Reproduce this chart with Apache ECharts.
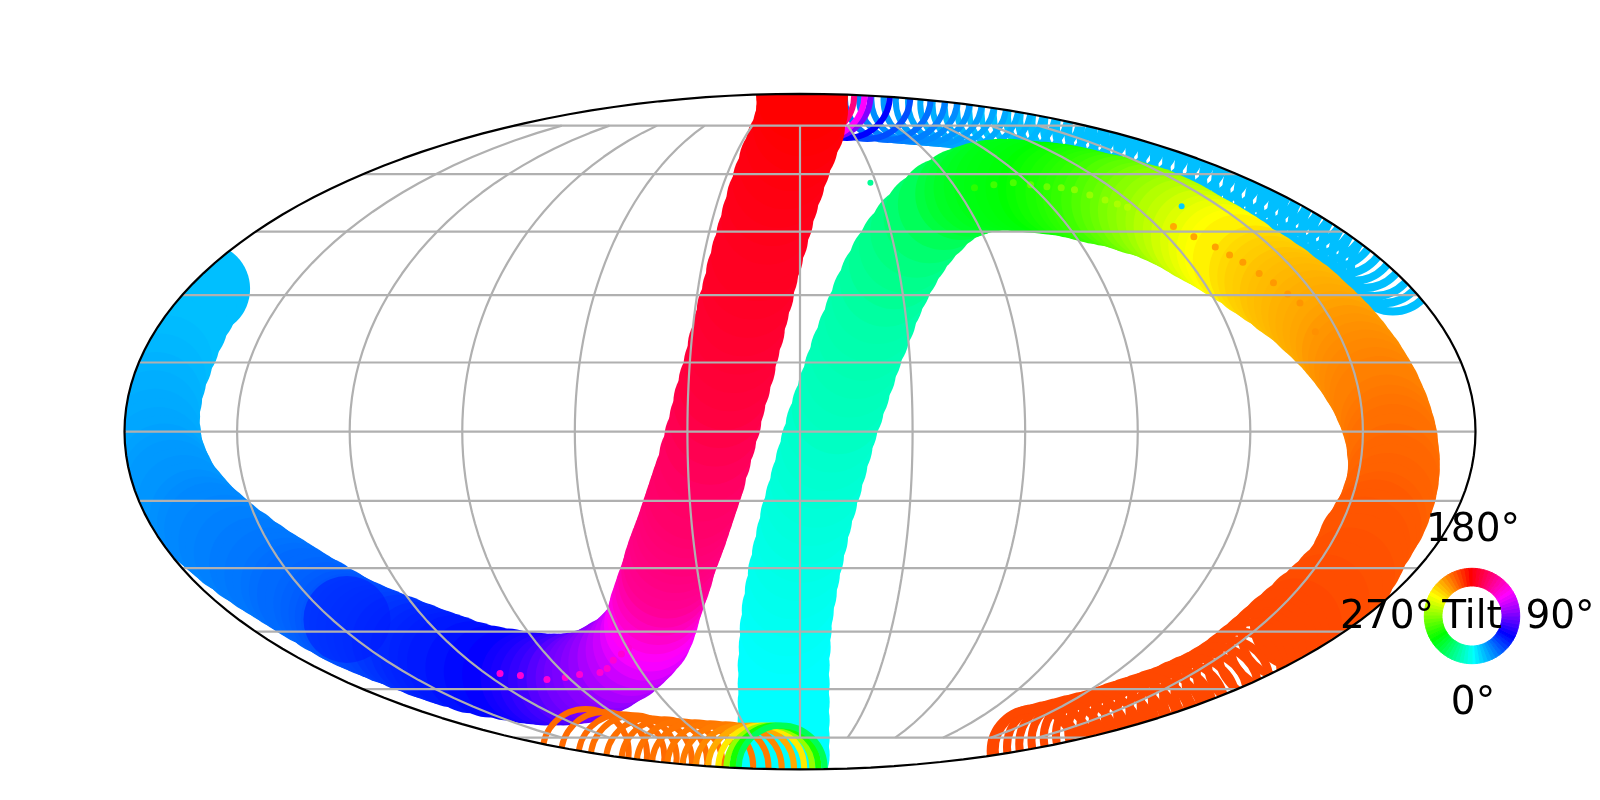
<!DOCTYPE html>
<html>
<head>
<meta charset="utf-8">
<style>
  html, body { margin: 0; padding: 0; background: #fff; }
  #main { width: 1600px; height: 800px; }
</style>
<script src="https://cdn.jsdelivr.net/npm/echarts@6/dist/echarts.min.js"></script>
</head>
<body>
<div id="main"></div>
<script>
// map plane units: x -662..662, y -331..331 (Mollweide ellipse)
var farRingX = [581,572,563,553,543,533,523,513,503,492,481,470,459,448,436,424,412,400,388,376,364,352,340,328,316,304,292,280,268,256,244]
var farRingY = [159,167,174,182,189,196,203,209,215,221,227,233,238,244,249,254,259,264,268,272,276,280,284,288,291,294,297,300,303,305,308]
var farRingTilt = [15,15,15,15,15,15,15,15,15,15,15,15,15,15,15,15,15,15,15,15,15,15,15,15,15,15,15,15,15,15,15]

var capRingX = [232,220,208,196,184,172,160,148,136,124,112,100,86,66,46,27,21,11]
var capRingY = [310,312,314,316,318,320,321,323,324,325,326,327,328,329,330,330,330,330]
var capRingTilt = [15,15,16,17,18,19,20,21,23,25,27,30,34,42,60,90,120,150]

var leftBandX = [-584,-597,-606,-614,-621,-627,-631,-633,-632,-631,-629,-626,-623,-619,-615,-610,-604,-598,-592,-585,-578,-571,-564,-557,-549,-542,-534,-527,-519,-511,-503,-495,-487,-479,-471,-464,-456,-450,-444,-436,-429,-420,-412,-403,-394,-385,-376,-367,-358,-349,-340,-322,-304,-286,-268,-259,-250,-241,-232,-223,
  -214,-206,-198,-190,-182,-173,-165,-158,-151,-147,-144,-142,-139,-136,-133,-130,-128,-125,-122,-119,-116,-113,-110,-107,-104,-101,-98,
  -93,-88,-83,-79,-74,-69,-65,-60,-56,-51,-47,-42,-37,-32,-27,-21,-15,-8,-1,2,2]
var leftBandY = [140,123,105,87,69,51,33,15,-3,-12,-21,-29,-37,-45,-53,-61,-68,-75,-82,-89,-95,-101,-107,-113,-118,-124,-129,-134,-139,-144,-149,-154,-159,-164,-168,-173,-177,-181,-184,-188,-191,-195,-198,-202,-205,-209,-212,-216,-219,-222,-225,-231,-235,-238,-241,-242,-243,-243,-243,-242,
  -241,-238,-235,-231,-226,-221,-214,-207,-199,-190,-181,-173,-164,-155,-147,-138,-130,-121,-113,-105,-97,-88,-79,-70,-61,-52,-43,
  -25,-7,11,29,47,65,83,101,119,137,155,173,191,209,227,245,263,281,299,315,330]
var leftBandTilt = [15,15,15,15,16,17,18,19,20,20,21,21,22,23,24,24,25,25,26,27,28,28,29,29,30,30,31,31,32,32,33,34,35,35,36,37,38,39,40,41,42,43,44,45,47,48,50,51,52,53,54,56,58,61,64,66,69,72,75,80,
  84,87,89,92,95,100,104,108,113,118,122,127,132,136,140,144,146,147,149,150,151,152,153,154,155,155,156,
  157,159,161,163,165,166,167,168,169,170,171,172,172,173,174,175,176,177,178,179,180]

var mainBandX = [-16,-16,-16,-16,-16,-16,-15,-14,-12,-9,-6,-2,2,6,11,16,21,26,31,37,43,49,55,62,69,76,84,93,103,114,127,141,
  158,167,176,186,196,206,216,227,239,247,256,266,276,283,291,301,311,320,329,337,346,355,364,372,381,389,398,406,414,422,430,
  446,454,461,469,476,483,490,497,504,511,518,525,531,537,543,549,554,559,564,568,572,575,578,580,581,582,582,581,579,576,573,569,564,559,553,550,546,538,526,513,499,486]
var mainBandY = [-317,-300,-283,-265,-247,-229,-211,-193,-175,-157,-139,-121,-103,-85,-67,-49,-31,-13,5,23,41,59,77,95,113,131,148,165,181,196,210,223,
  233,236,239,241,242,242,241,240,239,238,237,235,233,231,229,227,225,222,219,217,214,210,206,202,197,192,187,183,178,173,168,
  157,152,147,142,136,131,126,120,113,107,100,93,86,79,71,63,55,47,38,29,20,11,1,-8,-18,-27,-37,-47,-57,-66,-75,-84,-92,-101,-109,-117,-125,-139,-152,-165,-177,-189]
var mainBandTilt = [0,0,0,0,0,0,0,359,358,357,356,355,354,353,352,351,350,349,348,346,345,344,343,342,341,340,338,335,333,330,326,321,
  315,312,309,307,305,304,303,302,300,298,296,294,292,290,288,285,281,278,275,271,268,265,262,258,255,251,248,245,242,240,237,
  233,231,229,228,226,225,224,223,222,221,220,219,218,216,215,214,213,212,211,210,210,209,208,207,206,206,205,204,204,203,203,202,201,201,200,200,200,199,199,198,198,197]

var tailRingX = [474,463,452,441,430,419,408,397,386,375,364,352,340,328,316,304,292,280,268,256,244,232,228]
var tailRingY = [-199,-209,-219,-228,-237,-245,-252,-258,-263,-268,-273,-277,-281,-285,-289,-293,-297,-300,-303,-306,-309,-312,-313]
var tailRingTilt = [197,197,197,197,197,197,197,197,197,197,197,197,197,197,197,197,197,197,197,197,197,197,197]

var bottomRingX = [-210,-192,-175,-163,-148,-133,-118,-103,-88,-73,-60,-48,-38,-30,-24,-18]
var bottomRingY = [-314,-317,-319,-320,-323,-324,-326,-327,-328,-329,-330,-330,-330,-330,-330,-330]
var bottomRingTilt = [205,205,205,206,206,206,207,207,208,209,212,220,235,265,295,320]

var darkX = [-444]
var darkY = [-184]
var darkTilt = [55]

var chainX = [-294,-274,-248,-230,-216,-196,-189,-183,-175,-168,171,190,209,226,242,256,269,284,299,311,321,366,386,407,421,434,450,464,478,490,505]
var chainY = [-237,-239,-243,-241,-238,-236,-232,-224,-218,-212,239,242,244,242,240,239,237,232,227,223,220,201,191,181,173,166,155,146,135,126,98]
var chainTilt = [130,130,130,130,130,130,130,130,130,130,290,285,282,278,275,272,268,265,262,260,258,220,219,218,218,217,217,216,216,215,214]

var strayX = [69,374]
var strayY = [244,221]
var strayTilt = [335,12]

var gridLons = [-150,-120,-90,-60,-30,0,30,60,90,120,150]
var gridLats = [-75,-60,-45,-30,-15,0,15,30,45,60,75]

var wheelTilt = [0,5,10,15,20,25,30,35,40,45,50,55,60,65,70,75,80,85,90,95,100,105,110,115,120,125,130,135,140,145,150,155,160,165,170,175,180,185,190,195,200,205,210,215,220,225,230,235,240,245,250,255,260,265,270,275,280,285,290,295,300,305,310,315,320,325,330,335,340,345,350,355]
var wheelLabels = ['180°', '90°', '0°', '270°', 'Tilt']

var DEG = Math.PI / 180
var AX = 662
var AY = 331

function tiltColor(t) {
  return 'hsl(' + ((t + 180) % 360) + ',100%,50%)'
}

// Mollweide forward
function project(lon, lat) {
  var phi = lat * DEG
  var th = phi
  for (var i = 0; i < 40; i++) {
    th -= (2 * th + Math.sin(2 * th) - Math.PI * Math.sin(phi)) / (2 + 2 * Math.cos(2 * th))
  }
  return [AX * (lon / 180) * Math.cos(th), AY * Math.sin(th)]
}

function discSeries(xs, ys, tilts, size, opacity) {
  return {
    type: 'scatter',
    z: 2,
    silent: true,
    animation: false,
    clip: false,
    symbolSize: size,
    data: xs.map(function (x, i) {
      return {
        value: [x, ys[i]],
        itemStyle: { color: tiltColor(tilts[i]), opacity: opacity }
      }
    })
  }
}

function ringSeries(xs, ys, tilts, width) {
  return {
    type: 'scatter',
    z: 2,
    silent: true,
    animation: false,
    clip: false,
    symbolSize: 92 - width,
    data: xs.map(function (x, i) {
      return {
        value: [x, ys[i]],
        itemStyle: {
          color: 'rgba(0,0,0,0)',
          borderColor: tiltColor(tilts[i]),
          borderWidth: width,
          opacity: 1
        }
      }
    })
  }
}

function lineSeries(points, color, width, z) {
  return {
    type: 'line',
    z: z,
    silent: true,
    clip: false,
    animation: false,
    showSymbol: false,
    symbol: 'none',
    lineStyle: { color: color, width: width },
    data: points
  }
}

var series = []
series.push(ringSeries(farRingX, farRingY, farRingTilt, 8))
series.push(ringSeries(capRingX, capRingY, capRingTilt, 6))
series.push(discSeries(leftBandX, leftBandY, leftBandTilt, 92, 1))
series.push(discSeries(darkX, darkY, darkTilt, 87, 0.5))
series.push(discSeries(mainBandX, mainBandY, mainBandTilt, 92, 1))
series.push(ringSeries(tailRingX, tailRingY, tailRingTilt, 8))
series.push(ringSeries(bottomRingX, bottomRingY, bottomRingTilt, 6))
series.push(discSeries(chainX, chainY, chainTilt, 7, 1))
series.push(discSeries(strayX, strayY, strayTilt, 6, 1))

// white mask outside the ellipse, scatter symbols get cut at the map edge
series.push({
  type: 'custom',
  z: 3,
  silent: true,
  clip: false,
  animation: false,
  encode: { x: 0, y: 1 },
  data: [[0, 0, 0]],
  renderItem: function (params, api) {
    var w = api.getWidth()
    var h = api.getHeight()
    var pts = [[0, 0], [w, 0], [w, h], [0, h], [0, 0]]
    for (var i = 0; i <= 360; i += 2) {
      pts.push(api.coord([-AX * Math.sin(i * DEG), AY * Math.cos(i * DEG)]))
    }
    pts.push(pts[5])
    return { type: 'polygon', shape: { points: pts }, style: { fill: '#fff' } }
  }
})

// graticule
gridLats.forEach(function (lat) {
  series.push(lineSeries([project(-180, lat), project(180, lat)], '#b0b0b0', 2.2, 4))
})
gridLons.forEach(function (lon) {
  var pts = []
  for (var lat = -75; lat <= 75; lat += 2.5) pts.push(project(lon, lat))
  series.push(lineSeries(pts, '#b0b0b0', 2.2, 4))
})
var rim = []
for (var i = 0; i <= 360; i += 2) {
  rim.push([AX * Math.sin(i * DEG), AY * Math.cos(i * DEG)])
}
series.push(lineSeries(rim, '#000', 2.2, 5))

// tilt colour wheel
series.push({
  type: 'pie',
  z: 6,
  silent: true,
  animation: false,
  center: [1472, 616],
  radius: [30, 47.7],
  startAngle: 270,
  clockwise: false,
  label: { show: false },
  labelLine: { show: false },
  data: wheelTilt.map(function (t) {
    return {
      value: 1,
      itemStyle: { color: tiltColor(t), borderColor: tiltColor(t), borderWidth: 1 }
    }
  })
})

function wheelText(text, x, y) {
  return {
    type: 'text',
    z: 100,
    silent: true,
    style: {
      text: text,
      x: x,
      y: y,
      fill: '#000',
      font: '39px "DejaVu Sans"',
      textAlign: 'center',
      textVerticalAlign: 'middle'
    }
  }
}

var myChart = echarts.init(document.getElementById('main'))
var option = {
  backgroundColor: '#fff',
  animation: false,
  grid: { left: 124.5, top: 93.9, width: 1351, height: 675.5 },
  xAxis: { type: 'value', min: -AX, max: AX, show: false },
  yAxis: { type: 'value', min: -AY, max: AY, show: false },
  graphic: [
    wheelText(wheelLabels[0], 1473, 531),
    wheelText(wheelLabels[1], 1560, 618),
    wheelText(wheelLabels[2], 1473, 704),
    wheelText(wheelLabels[3], 1387, 618),
    wheelText(wheelLabels[4], 1472, 618)
  ],
  series: series
}
myChart.setOption(option)
</script>
</body>
</html>
